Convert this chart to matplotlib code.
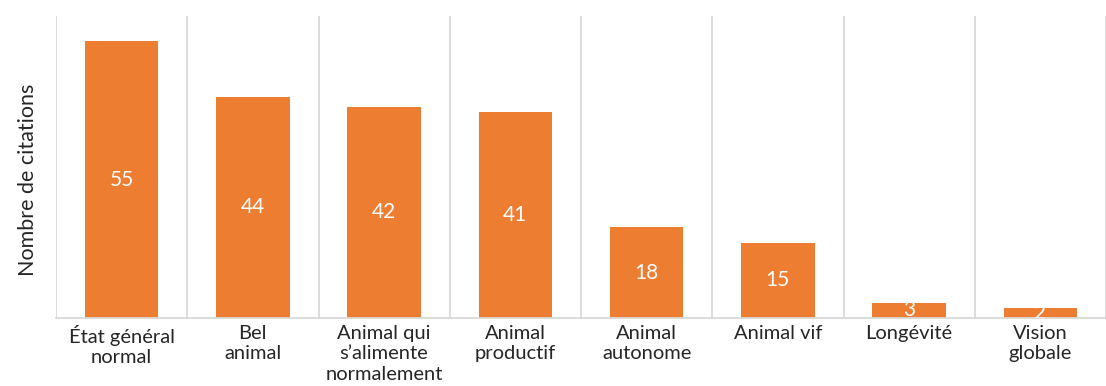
import matplotlib
matplotlib.use("Agg")
import matplotlib.pyplot as plt
import numpy as np

categories = ["État général\nnormal", "Bel\nanimal", "Animal qui\ns’alimente\nnormalement",
              "Animal\nproductif", "Animal\nautonome", "Animal vif", "Longévité", "Vision\nglobale"]
values = [55, 44, 42, 41, 18, 15, 3, 2]

plt.rcParams['font.family'] = ['Lato', 'DejaVu Sans']

fig = plt.figure(figsize=(11.06, 3.86), dpi=100)
ax = fig.add_axes([56/1106, (386-318)/386, 1 - 56/1106, (318-16)/386])

x = np.arange(len(categories))
bars = ax.bar(x, values, width=0.56, color="#ED7D31", zorder=2)

for xi, v in zip(x, values):
    ax.text(xi, v/2, str(v), ha="center", va="center", color="white", fontsize=15, clip_on=True, zorder=3)

ax.set_xlim(-0.5, 7.43)
ax.set_ylim(0, 60)
ax.set_xticks(x)
ax.set_xticklabels(categories, fontsize=14.5, color="#262626", linespacing=1.25)
ax.set_xticks(np.arange(-0.5, 8, 1), minor=True)
ax.tick_params(axis="x", which="both", length=0, pad=5)
ax.grid(True, which="minor", axis="x", color="#d9d9d9", linewidth=1.3, zorder=0)
ax.grid(False, which="major")
ax.set_yticks([])
for s in ["top", "right", "left"]:
    ax.spines[s].set_visible(False)
ax.spines["bottom"].set_color("#d9d9d9")
ax.spines["bottom"].set_linewidth(1.3)
ax.set_ylabel("Nombre de citations", fontsize=15.5, color="#262626")
ax.yaxis.set_label_coords(-18/1050, 0.457)

fig.savefig("out.png", dpi=100)
